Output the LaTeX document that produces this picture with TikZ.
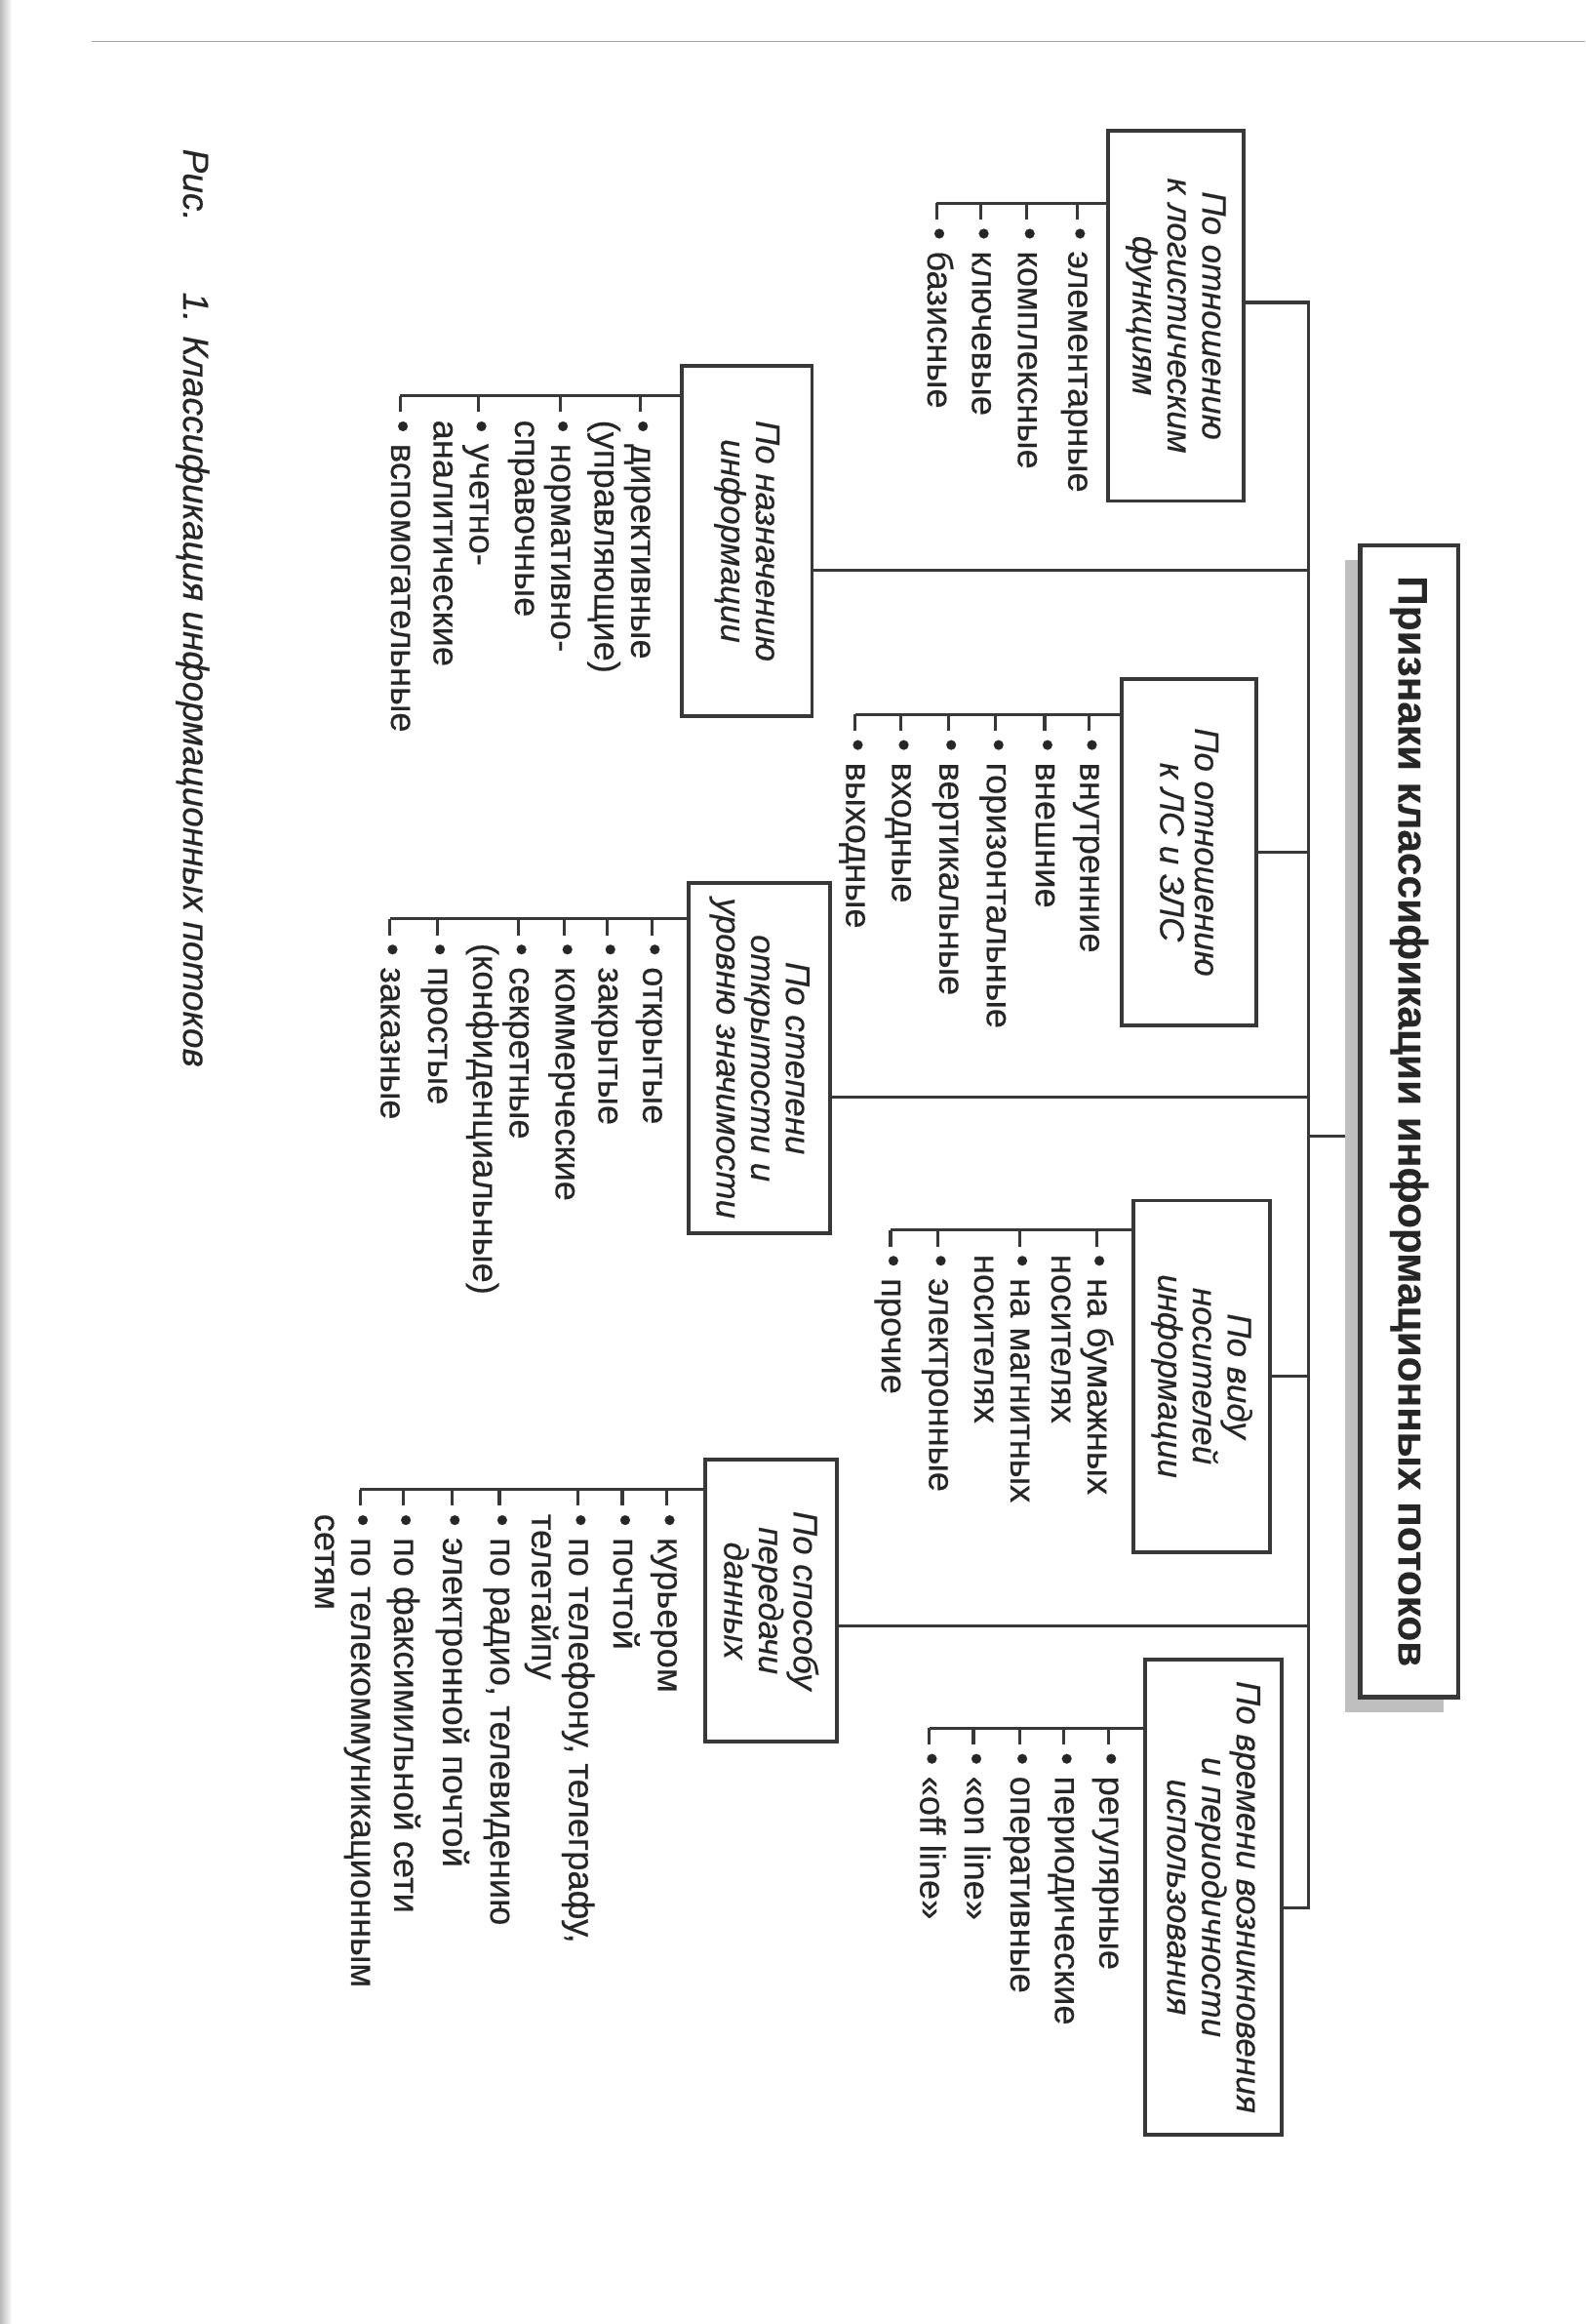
\documentclass[tikz,border=0pt]{standalone}
\usepackage{fontspec}
\setmainfont{Liberation Sans}[FakeBold=0.35]
\definecolor{ink}{HTML}{262626}
\definecolor{lineink}{HTML}{383838}
\renewcommand\arraystretch{1}
\newcommand\leafgroup[4]{%
  \foreach \xx/\lbl [count=\k] in {#3} {
    \coordinate (#4t\k) at (\xx,#2);
    \draw[conn] (#4t\k) -- ++(0,11);
    \node[leaf] (#4i\k) at (\xx-6,#2+16) {\begin{tabular}[t]{@{}l@{}}•\hspace{0.32em}\lbl\end{tabular}};
    \xdef\lastk{\k}
  }
  \draw[conn] (#4t1 -| #1.south) -- (#4t\lastk);
}
\begin{document}
\begin{tikzpicture}[x=0.15mm,y=-0.15mm,
  every node/.style={text=ink, font=\fontsize{10.2}{10.4}\selectfont},
  box/.style={draw=lineink, line width=1.1pt, fill=white, rotate=-90, align=center,
    inner sep=2pt, font=\itshape\fontsize{9.8}{10}\selectfont},
  leaf/.style={rotate=-90, inner sep=0pt, anchor=base west},
  conn/.style={draw=lineink, line width=0.9pt}]
\useasboundingbox (0,0) rectangle (1070,1568);
\fill[white] (0,0) rectangle (1070,1568);
\shade[left color=gray!55, right color=white] (0,0) rectangle (8,1568);
\draw[gray!70, line width=0.5pt] (62,28) -- (1070,28);

% title with shadow
\node[fill=gray!50, rotate=-90, minimum width=11.655cm, minimum height=0.99cm, inner sep=0pt] (tshadow) at (941,766.5) {};
\node[box, line width=1.3pt, minimum width=11.655cm, minimum height=0.99cm,
  font=\bfseries\fontsize{11.9}{13}\selectfont] (title) at (951,756.5)
  {Признаки классификации информационных потоков};

% category boxes
\node[box, minimum width=3.75cm,  minimum height=1.365cm] (b1) at (793.5,213) {По отношению\\к логистическим\\функциям};
\node[box, minimum width=3.54cm,  minimum height=1.32cm]  (b2) at (504,365)   {По назначению\\информации};
\node[box, minimum width=3.51cm,  minimum height=1.365cm] (b3) at (802.5,575) {По отношению\\к ЛС и ЗЛС};
\node[box, minimum width=3.54cm,  minimum height=1.425cm] (b4) at (512.5,714) {По степени\\открытости и\\уровню значимости};
\node[box, minimum width=3.555cm, minimum height=1.38cm]  (b5) at (811,928.5) {По виду\\носителей\\информации};
\node[box, minimum width=2.85cm,  minimum height=1.335cm] (b6) at (520.5,1080) {По способу\\передачи\\данных};
\node[box, minimum width=4.8cm,   minimum height=1.38cm]  (b7) at (819,1280) {По времени возникновения\\и периодичности\\использования};

% trunk
\coordinate (tr) at (883,0);
\coordinate (c1) at (883,204);
\coordinate (c2) at (883,385);
\coordinate (c4) at (883,740);
\coordinate (c6) at (883,1097);
\coordinate (c7) at (883,1287);
\draw[conn] (c1 -| b1.north) -- (c1) -- (c7) -- (c7 -| b7.north);
\draw[conn] (b3.north) -- (b3.north -| tr);
\draw[conn] (b5.north) -- (b5.north -| tr);
\draw[conn] (c2) -- (c2 -| b2.north);
\draw[conn] (c4) -- (c4 -| b4.north);
\draw[conn] (c6) -- (c6 -| b6.north);
\draw[conn] (tshadow.south -| tr) -- (tshadow.south);

% leaves
\leafgroup{b1}{137}{727/элементарные, 693/комплексные, 662/ключевые, 632/базисные}{ga}
\leafgroup{b2}{267}{432/{директивные\\(управляющие)}, 378/{нормативно-\\справочные}, 323/{учетно-\\аналитические}, 270/вспомогательные}{gb}
\leafgroup{b3}{482}{735/внутренние, 705/внешние, 672/горизонтальные, 640/вертикальные, 608/входные, 577/выходные}{gc}
\leafgroup{b4}{620}{440/открытые, 410/закрытые, 381/коммерческие, 350/{секретные\\(конфиденциальные)}, 295/простые, 263/заказные}{gd}
\leafgroup{b5}{830}{740/{на бумажных\\носителях}, 688/{на магнитных\\носителях}, 633/электронные, 601/прочие}{ge}
\leafgroup{b6}{1005}{450/курьером, 420/почтой, 390/{по телефону, телеграфу,\\телетайпу}, 337/{по радио, телевидению}, 305/{электронной почтой}, 272/{по факсимильной сети}, 243/{по телекоммуникационным\\сетям}}{gf}
\leafgroup{b7}{1166}{748/регулярные, 718/периодические, 688/оперативные, 657/«on line», 627/«off line»}{gg}

% caption
\node[rotate=-90, anchor=west, inner sep=0pt, font=\itshape\fontsize{10.4}{10.6}\selectfont] (cap) at (130,100)
  {Рис.\hspace{0.72cm}1. Классификация информационных потоков};
\end{tikzpicture}
\end{document}
